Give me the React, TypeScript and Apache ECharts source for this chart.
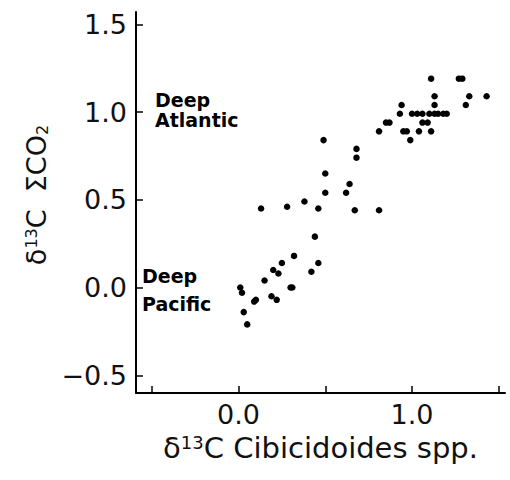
import React, { useEffect, useRef } from "react";
import * as echarts from "echarts";

// δ13C Cibicidoides spp. (x) and δ13C ΣCO2 (y)
const cibicidoides = [
  0.01, 0.02, 0.03, 0.05, 0.09, 0.10, 0.13, 0.15, 0.19, 0.22,
  0.20, 0.23, 0.25, 0.28, 0.30, 0.31, 0.32, 0.38, 0.42, 0.44,
  0.46, 0.46, 0.49, 0.50, 0.50, 0.62, 0.64, 0.67, 0.68, 0.68,
  0.81, 0.81, 0.85, 0.87, 0.93, 0.94, 0.95, 0.97, 0.99, 1.00,
  1.03, 1.06, 1.04, 1.06, 1.09, 1.10, 1.13, 1.15, 1.18, 1.20,
  1.11, 1.11, 1.13, 1.13, 1.27, 1.29, 1.31, 1.33, 1.43,
];
const sigmaCO2 = [
  0.00, -0.03, -0.14, -0.21, -0.08, -0.07, 0.45, 0.04, -0.05, -0.07,
  0.10, 0.08, 0.14, 0.46, 0.00, 0.00, 0.18, 0.49, 0.09, 0.29,
  0.14, 0.45, 0.84, 0.65, 0.54, 0.54, 0.59, 0.44, 0.74, 0.79,
  0.44, 0.89, 0.94, 0.94, 0.99, 1.04, 0.89, 0.89, 0.84, 0.99,
  0.99, 0.99, 0.89, 0.94, 0.94, 0.99, 0.99, 0.99, 0.99, 0.99,
  0.89, 1.19, 1.09, 1.04, 1.19, 1.19, 1.04, 1.09, 1.09,
];

const xTickValues = [-0.5, 0, 0.5, 1.0, 1.5];
const xLabelValues = [0, 1.0];
const yTickValues = [-0.5, 0, 0.5, 1.0, 1.5];
const annotations = ["Deep\nAtlantic", "Deep\nPacific"];

const FONT = "'DejaVu Sans', 'Liberation Sans', sans-serif";
const fmt = (v: number) => v.toFixed(1).replace("-", "\u2212");

export default function App() {
  const ref = useRef<HTMLDivElement>(null);
  useEffect(() => {
    document.body.style.margin = "0";
    if (!ref.current) return;
    const chart = echarts.init(ref.current, null, { renderer: "svg" });
    const data = cibicidoides.map((x, i) => [x, sigmaCO2[i]]);
    chart.setOption({
      animation: false,
      backgroundColor: "#ffffff",
      grid: {
        left: 136,
        right: 5,
        top: 12,
        bottom: 87,
        containLabel: false,
        outerBoundsMode: "none",
      },
      xAxis: {
        type: "value",
        min: -0.591,
        max: 1.536,
        name: "δ{sup|13}C Cibicidoides spp.",
        nameLocation: "middle",
        nameGap: 40,
        nameTextStyle: {
          fontFamily: FONT,
          fontSize: 29,
          color: "#111",
          rich: {
            sup: { fontSize: 18, verticalAlign: "top", fontFamily: FONT, color: "#111" },
          },
        },
        axisLine: { show: true, onZero: false, lineStyle: { color: "#000", width: 2 } },
        axisTick: {
          show: true,
          inside: true,
          length: 7,
          customValues: xTickValues,
          lineStyle: { color: "#000", width: 1.5 },
        },
        axisLabel: {
          show: true,
          customValues: xLabelValues,
          margin: 8,
          fontFamily: FONT,
          fontSize: 27,
          color: "#111",
          formatter: (v: number) => fmt(v),
        },
        splitLine: { show: false },
      },
      yAxis: {
        type: "value",
        min: -0.601,
        max: 1.57,
        name: "δ{sup|13}C  ΣCO{sub|2}",
        nameLocation: "middle",
        nameGap: 86,
        nameRotate: 90,
        nameTextStyle: {
          fontFamily: FONT,
          fontSize: 27,
          color: "#111",
          padding: [0, 0, 0, 15],
          rich: {
            sup: { fontSize: 16, verticalAlign: "top", fontFamily: FONT, color: "#111" },
            sub: { fontSize: 16, verticalAlign: "bottom", fontFamily: FONT, color: "#111" },
          },
        },
        axisLine: { show: true, onZero: false, lineStyle: { color: "#000", width: 2 } },
        axisTick: {
          show: true,
          inside: true,
          length: 7,
          customValues: yTickValues,
          lineStyle: { color: "#000", width: 1.5 },
        },
        axisLabel: {
          show: true,
          customValues: yTickValues,
          margin: 9,
          fontFamily: FONT,
          fontSize: 27,
          color: "#111",
          formatter: (v: number) => fmt(v),
        },
        splitLine: { show: false },
      },
      graphic: [
        {
          type: "text",
          left: 155,
          top: 90,
          style: {
            text: annotations[0],
            font: `bold 19px ${FONT}`,
            lineHeight: 20,
            fill: "#000",
          },
        },
        {
          type: "text",
          left: 142,
          top: 262,
          style: {
            text: annotations[1],
            font: `bold 19px ${FONT}`,
            lineHeight: 28,
            fill: "#000",
          },
        },
      ],
      series: [
        {
          type: "scatter",
          data,
          symbol: "circle",
          symbolSize: 6.5,
          itemStyle: { color: "#000", opacity: 1 },
        },
      ],
    });
    return () => chart.dispose();
  }, []);
  return <div ref={ref} style={{ width: 510, height: 480 }} />;
}
